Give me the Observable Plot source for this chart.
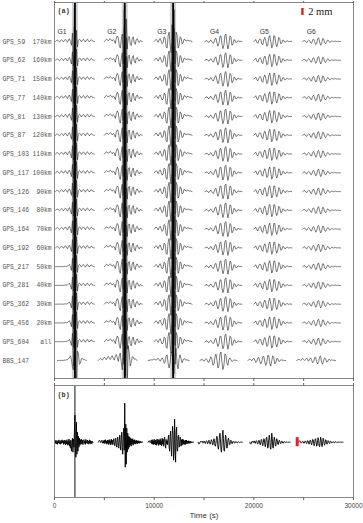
<!DOCTYPE html>
<html><head><meta charset="utf-8">
<script src="https://cdn.jsdelivr.net/npm/d3@7"></script>
<script src="https://cdn.jsdelivr.net/npm/@observablehq/plot@0.6"></script>
<style>
body{margin:0;background:#fff;}
#chart{width:363px;height:523px;}
svg{display:block;}
</style></head><body><div id="chart"></div>
<script>
// ---------- data ----------
const stations = ["GPS_59","GPS_62","GPS_71","GPS_77","GPS_81","GPS_87","GPS_103","GPS_117","GPS_126","GPS_146","GPS_164","GPS_192","GPS_217","GPS_281","GPS_362","GPS_456","GPS_604","BBS_147"];
const distances = ["170km","160km","150km","140km","130km","120km","110km","100km","90km","80km","70km","60km","50km","40km","30km","20km","all",""];
const quietStart = [false,false,false,false,false,false,false,false,false,false,false,false,true,true,true,true,true,false];
const groupNames = ["G1","G2","G3","G4","G5","G6"];
const groupLabelTimes = [300, 5300, 10300, 15600, 20600, 25300];
const gpsStarts = [100, 5000, 10000, 15100, 20000, 24900];
const bbsStarts = [300, 4400, 9400, 14600, 19400, 24300];
const panelBStarts = [0, 4400, 9400, 14400, 19600, 24500];
const sampleStepA = 100; // seconds between samples, panel (a)
const sampleStepB = 50;  // seconds between samples, panel (b)
const arrivalTimes = [2050, 7050, 11900];
const panelBArrival = [2050];
const xTicksAll = [0, 5000, 10000, 15000, 20000, 25000, 30000];
const xTicksLabeled = [0, 10000, 20000, 30000];
const scaleBarA = [{t1: 24800, t2: 25050, y1: -1.76, y2: -1.39, label: "2 mm"}];
const scaleBarB = [{t1: 24250, t2: 24550, y1: -4.5, y2: 4.5}];

// GPS station traces (amplitude in row units)
const gpsG1 = [0,0.05,0.08,0.02,-0.03,0.04,0.1,0.06,-0.02,0.05,0.12,0.04,-0.04,0.08,0.15,
 0,-0.2,0.45,-1.3,1.8,-1.4,0.6,-0.3,
 0.05,0.12,0.08,-0.02,0.06,0.12,0.05,-0.03,0.08,0.13,0.04,-0.02,0.06,0.1,0.03,0.01,0];
const gpsG1Quiet = [0,0,0,0.01,0,0,0.01,0,0,0.01,0.02,0.01,0.03,0.06,0.12,
 0,-0.2,0.45,-1.3,1.8,-1.4,0.6,-0.3,
 0.05,0.12,0.08,-0.02,0.06,0.12,0.05,-0.03,0.08,0.13,0.04,-0.02,0.06,0.1,0.03,0.01,0];
const gpsG2 = [0,0.06,0.12,0.1,0.04,0.1,0.15,0.08,0.02,0.1,0.05,
 -0.1,0.15,0.3,0.2,-0.2,-0.35,0.1,0.4,
 -1.2,1.7,-1.8,1.2,
 -0.4,0.2,0.28,-0.1,-0.22,0.15,0.25,-0.05,-0.15,0.1,0.15,0.02,-0.05,0.05,0.02,0];
const gpsG3 = [0,0.06,0.12,0.05,-0.04,0.08,0.16,0.02,-0.12,
 -0.05,0.25,0.2,-0.3,-0.35,0.3,0.5,-0.2,-0.6,
 0.9,-1.5,1.7,-1.2,
 0.5,0.35,-0.35,-0.2,0.25,0.2,-0.12,-0.08,0.12,0.1,0.02,0.06,0.08,0.03,0.04,0.02,0];
const gpsG4 = [0,0.03,0.05,-0.02,-0.05,0.04,0.08,-0.02,
 -0.1,-0.06,0.14,0.18,-0.08,-0.25,-0.1,0.28,0.3,-0.12,-0.38,-0.2,0.35,0.4,-0.1,-0.4,-0.15,0.3,0.25,-0.2,
 -0.15,0.1,0.08,-0.06,-0.04,0.04,0.03,-0.01,0.01,0];
const gpsG5 = [0,0.06,0.1,-0.04,-0.1,0.05,
 0.14,0.1,-0.12,-0.18,0.1,0.22,0.05,-0.25,-0.2,0.2,0.32,0,-0.34,-0.22,0.3,0.3,-0.1,-0.28,-0.1,0.22,0.15,-0.12,
 -0.1,0.08,0.06,-0.04,-0.03,0.04,0.03,-0.01,0.01,0.01,0];
const gpsG6 = [0,0.04,0.06,-0.02,-0.06,0.03,
 0.08,0.04,-0.08,-0.1,0.08,0.14,0,-0.16,-0.12,0.14,0.2,-0.02,-0.2,-0.12,0.16,0.14,-0.06,-0.12,-0.02,0.08,
 0.05,-0.04,-0.03,0.03,0.02,-0.01,0.01,0.02,0,0.01,0,0,0];

// BBS_147 traces (row units)
const bbsG1 = [0,0,0.01,0,0.01,0,0.01,0.02,0.02,0.04,0.06,0.08,0.15,0.25,0.05,-0.35,-0.5,0.3,1.5,-1.4,0.5,0.4,-0.2,-0.15,0.1,0.12,0.04,0.05,0.02,0];
const bbsG2 = [0,0.06,0.12,0.08,0.02,0.1,0.18,0.12,0.04,0.14,0.22,0.1,0.05,0.18,0.25,0.1,0.02,0.2,0.32,0.15,-0.05,
 0.25,0.4,-0.1,-0.5,0.2,0.8,
 -0.9,1.6,-1.4,0.8,
 0.4,-0.3,-0.1,0.2,0.18,0.06,0.1,0.03,0];
const bbsG3 = [0,0.01,0.02,0.04,0.02,0.05,0.09,0.05,0.02,0.08,0.12,0.05,-0.04,0.06,0.14,
 0.05,-0.15,-0.1,0.25,0.3,-0.15,-0.4,-0.1,0.45,0.4,-0.5,-0.7,0.3,0.65,-0.2,-0.45,
 0.1,0.3,0.1,-0.12,0.02,0.1,0.06,0.02,0.04,0.01,0];
const bbsG4 = [0,0.03,0.06,0.02,-0.04,0.03,0.1,0.04,-0.08,-0.1,
 0.08,0.2,0.05,-0.25,-0.2,0.2,0.35,0,-0.4,-0.3,0.35,0.45,-0.1,-0.48,-0.25,0.35,0.3,-0.15,-0.25,0.05,
 0.14,0.04,-0.06,-0.02,0.03,0.02,0.01,0];
const bbsG5 = [0,0.04,0.08,0.04,-0.02,0.08,0.12,0.02,-0.1,-0.04,
 0.14,0.16,-0.06,-0.18,-0.05,0.2,0.22,-0.08,-0.26,-0.1,0.28,0.25,-0.15,-0.3,0,0.25,0.15,-0.18,-0.12,0.1,
 0.1,-0.04,-0.04,0.04,0.03,0.01,0.01,0,0];
const bbsG6 = [0,0.03,0.06,0.04,0.01,0.05,0.1,0.06,0,0.06,0.12,0.04,-0.04,0.08,0.14,
 0.02,-0.12,-0.06,0.15,0.18,-0.06,-0.18,-0.05,0.2,0.24,-0.1,-0.2,0,0.15,0.1,-0.08,-0.06,
 0.05,0.05,0,0.03,0.02,0.01,0.01,0];

// Panel (b) traces (amplitude in px-like units)
const bG1 = [0,1.5,-1.2,2,-1.8,0.8,-2.2,1.6,-0.9,2.3,-1.5,0.6,-2,1.8,-1.1,2.4,-0.7,1.3,-2.1,1.9,-1.4,2.2,-2.6,1.2,-1.8,2.5,-3,1,-2.4,3.2,
 -4,1.5,-6,2,-9,-3,4,-10,3,-5,12,
 27,-8,-15,20,-12,10,-9,6,-5,4,
 -3,2.5,-2,3,-1.5,2,-2.5,1.8,2.6,-1.2,1.5,-2.2,2.8,-1,0.5,2.2,-1.8,1.2,-2,2.4,-0.8,1.6,-1.9,1.1,-1.3,0.9,0];
const bG2 = [0,1,2,1.5,0.5,-0.5,1,2,0.5,-1,
 1.5,-1,2,-1.5,2.5,-0.5,1.2,-2,2.2,-1.3,1.8,-2.4,2.6,-1,1.5,-2.8,3,-1.2,2,-2.5,1,3.5,-2,-3.5,2.5,4,-3,-5,3,5,-4,
 -6,2,7,-3,-8,4,10,-5,-12,6,14,-8,
 39,-25,18,-22,14,-10,9,-7,6,-5,
 5,-3,4,-4,3,-2,3.5,-3,2,-1.5,2.5,-2,1.5,-1,2,-1.8,1.2,-0.8,1.5,-1.2,0.8,-0.5,1,-0.6,0.4,0.2,0];
const bG3 = [0,1,1.5,0.5,-0.5,0,
 2,-1.5,2.5,-2,1.5,-2.5,3,-1.8,2.2,-2.7,1.8,-3,3.2,-1.5,2.6,-3.2,2,-2.2,3.5,-2.5,1.5,-3.5,4,-2,3,-4,2.5,5,-3,-6,2.8,-2,1.6,-2.4,
 4,7,-5,-9,6,11,-4,-14,3,16,8,-18,-10,23,-5,-20,10,15,-8,-9,
 6,7,-5,-4,5,3,-4,2.5,-3,3,-2,2.5,-2.2,1.5,-2.5,2,-1.5,2.2,-1.8,1,-1.2,1.5,-1,0.8,-1.2,1,-0.6,0.5,-0.4,0.3,0.2,0];
const bG4 = [0,-1,-2,-1.5,0,1,0.5,0,
 1,0.5,-1,-0.5,1.2,0.8,-1,-1.2,0.5,1.5,0.8,-1.5,-1.2,0.8,2,0.5,-2,-1.5,1,2.5,1,-2.5,-2.5,1,3.5,2,-3,-4,
 -1,4,6,2,-5,-7,-2,6,9,3,-7,-10,-3,8,12,4,-8,-9,-2,7,6,-1,-6,-4,2,
 4,2,-2.5,-2.5,1,2,0.8,-1.5,-1.2,0.6,1.2,0.5,-0.8,-1,0.3,0.8,0.4,-0.5,-0.6,0.2,0.5,0.2,-0.3,-0.3,0.1,0.2,0.1,0,0];
const bG5 = [0,-1.5,-2,-1,0.5,1,0,-0.5,
 1,1.2,-0.8,-1.2,0.5,1.6,1,-1.2,-1.8,0.4,2,1.5,-1.5,-2.5,0,2.8,2,-2,-3.5,-0.5,3.5,3,-2,
 -4.5,-1,4.5,5,-1,-6,-4,3,7,3,-5,-7,0,9,4,-5,-6,1,5,3,-3,-4,0.5,3.5,2,
 -2,-2.5,0.5,2,1,-1.2,-1.5,0.4,1.2,0.8,-0.8,-1,0.2,0.8,0.5,-0.4,-0.6,0.1,0.4,0.3,-0.2,-0.2,0.1,0.1,0,0];
const bG6 = [0,1,1.5,1,0,-1,-0.5,0.5,
 1,0.6,-0.8,-1,0.4,1.3,0.8,-1,-1.4,0.2,1.6,1.2,-1.2,-2,-0.2,2.2,1.8,-1.4,-2.6,-0.4,2.8,2.4,-1.5,
 -3.5,-1.2,3,3.5,0,-4,-3,1.5,4.5,2,-3.5,-4.5,-0.5,5,3,-3,-4.5,-1,4,3,-1.5,-3,-1,2.5,2,
 -1,-2,-0.6,1.6,1,-0.8,-1.2,0,1,0.6,-0.6,-0.8,0.1,0.6,0.4,-0.4,-0.5,0.1,0.4,0.3,-0.2,-0.3,0,0.2,0.1,-0.1,-0.1,0,0.1,0,0,0,0,0];

// ---------- tables ----------
const gpsWaves = [gpsG1, gpsG2, gpsG3, gpsG4, gpsG5, gpsG6];
const bbsWaves = [bbsG1, bbsG2, bbsG3, bbsG4, bbsG5, bbsG6];
const panelBWaves = [bG1, bG2, bG3, bG4, bG5, bG6];

const rowsA = [];
stations.forEach((s, i) => {
  const isBBS = s.startsWith("BBS");
  const waves = isBBS ? bbsWaves : gpsWaves.map((w, g) => (g === 0 && quietStart[i]) ? gpsG1Quiet : w);
  const starts = isBBS ? bbsStarts : gpsStarts;
  waves.forEach((w, g) => w.forEach((a, j) => rowsA.push({t: starts[g] + j * sampleStepA, row: i, amp: a, key: i + "-" + g})));
});
const rowsB = [];
panelBWaves.forEach((w, g) => w.forEach((a, j) => rowsB.push({t: panelBStarts[g] + j * sampleStepB, amp: a, key: "b" + g})));

// ---------- panel (a) ----------
const plotA = Plot.plot({
  width: 363, height: 382,
  marginLeft: 54, marginRight: 10, marginTop: 2, marginBottom: 4,
  x: {domain: [0, 30000], axis: null},
  y: {domain: [-2.079, 17.96], reverse: true, axis: null},
  style: {fontFamily: "Liberation Sans", fontSize: "6.5px", color: "#444", background: "white"},
  marks: [
    Plot.ruleX(arrivalTimes, {stroke: "#999", strokeWidth: 6, strokeOpacity: 0.45}),
    Plot.line(rowsA, {x: "t", y: d => d.row - d.amp, z: "key", stroke: "#222", strokeWidth: 0.6, clip: true}),
    Plot.ruleX(arrivalTimes, {stroke: "#000", strokeWidth: 1.8}),
    Plot.frame({stroke: "#888"}),
    Plot.axisX({anchor: "top", ticks: xTicksAll, tickSize: 2, tickFormat: () => "", stroke: "#666"}),
    Plot.axisX({anchor: "bottom", ticks: xTicksAll, tickSize: 3, tickFormat: () => "", stroke: "#666"}),
    Plot.text(stations, {y: (d, i) => i, frameAnchor: "left", dx: -52, textAnchor: "start", fontFamily: "Liberation Mono", fontSize: 6.3, fill: "#555"}),
    Plot.text(distances, {y: (d, i) => i, frameAnchor: "left", dx: -3, textAnchor: "end", fontFamily: "Liberation Mono", fontSize: 6.3, fill: "#555"}),
    Plot.text(groupNames, {x: (d, i) => groupLabelTimes[i], y: () => 0, dy: -10, textAnchor: "start", fontSize: 6.8, fill: "#333"}),
    Plot.text(["(a)"], {frameAnchor: "top-left", dx: 3, dy: 6, fontFamily: "Liberation Mono", fontWeight: "bold", fontSize: 6.8, fill: "#333"}),
    Plot.rect(scaleBarA, {x1: "t1", x2: "t2", y1: "y1", y2: "y2", fill: "#d42a2a"}),
    Plot.text(scaleBarA, {x: "t2", y: d => (d.y1 + d.y2) / 2, text: "label", dx: 4, textAnchor: "start", fontFamily: "Liberation Serif", fontSize: 10.5, fill: "#222"})
  ]
});

// ---------- panel (b) ----------
const plotB = Plot.plot({
  width: 363, height: 141,
  marginLeft: 54, marginRight: 10, marginTop: 3, marginBottom: 26,
  x: {domain: [0, 30000], axis: null},
  y: {domain: [-55.3, 56.7], axis: null},
  style: {fontFamily: "Liberation Sans", fontSize: "6.5px", color: "#444", background: "white"},
  marks: [
    Plot.ruleX(panelBArrival, {stroke: "#111", strokeWidth: 1}),
    Plot.line(rowsB, {x: "t", y: "amp", z: "key", stroke: "#000", strokeWidth: 0.9, clip: true}),
    Plot.rect(scaleBarB, {x1: "t1", x2: "t2", y1: "y1", y2: "y2", fill: "#e0202a"}),
    Plot.frame({stroke: "#888"}),
    Plot.axisX({anchor: "top", ticks: xTicksAll, tickSize: 3, tickFormat: () => "", stroke: "#666"}),
    Plot.axisX({anchor: "bottom", ticks: xTicksAll, tickSize: 3, tickPadding: 3, stroke: "#666", fill: "#444",
      tickFormat: d => xTicksLabeled.includes(d) ? String(d) : "", fontSize: 6.5, label: null}),
    Plot.text(["Time (s)"], {frameAnchor: "bottom", dy: 20, fontSize: 8, fill: "#333"}),
    Plot.text(["(b)"], {frameAnchor: "top-left", dx: 3, dy: 7, fontFamily: "Liberation Mono", fontWeight: "bold", fontSize: 6.8, fill: "#333"})
  ]
});

const root = document.getElementById("chart");
root.appendChild(plotA);
root.appendChild(plotB);
</script></body></html>
